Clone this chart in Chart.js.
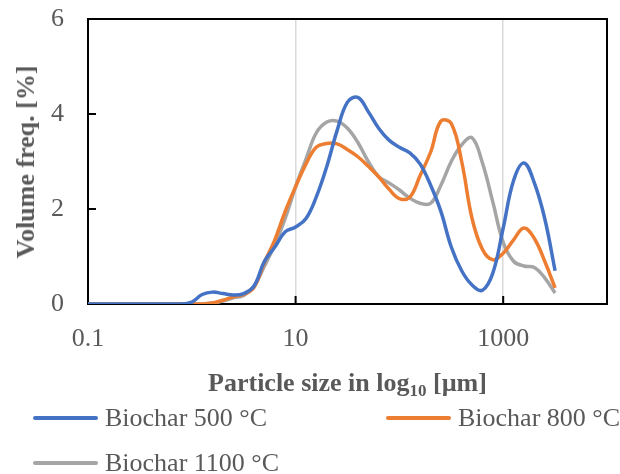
<!DOCTYPE html>
<html>
<head>
<meta charset="utf-8">
<script src="https://cdn.jsdelivr.net/npm/chart.js@4.4.1/dist/chart.umd.min.js"></script>
<style>
  body { margin: 0; background: #fff; }
  #wrap { position: relative; width: 620px; height: 474px; font-family: 'Liberation Serif', 'Times New Roman', serif; color: #595959; }
  #wrap canvas { position: absolute; left: 0; top: 0; }
  .lbl { position: absolute; font-size: 26px; line-height: 30px; white-space: nowrap; }
  .bold { font-weight: bold; }
  .key { position: absolute; height: 4px; border-radius: 2px; }
  sub { font-size: 17px; vertical-align: -5px; line-height: 0; }
</style>
</head>
<body>
<div id="wrap">
  <canvas id="chart" width="620" height="474"></canvas>
  <div class="lbl bold" id="ytitle" style="left:26px; top:162px; transform: translate(-50%,-50%) rotate(-90deg);">Volume freq. [%]</div>
  <div class="lbl bold" style="left:88px; width:519px; top:368px; text-align:center;">Particle size in log<sub>10</sub> [µm]</div>
  <div id="legend"></div>
</div>
<script>
// particle sizes (µm) and volume frequencies (%)
const sizes = [0.1, 0.794, 1, 1.26, 1.58, 2, 2.51, 3.16, 3.98, 5.01, 6.31, 7.94, 10, 12.6, 15.8, 20, 25.1, 31.6, 39.8, 50.1, 63.1, 79.4, 100, 126, 158, 200, 251, 316, 398, 501, 631, 794, 1000, 1259, 1585, 1995, 2512, 3162];
const biochar500 = [0, 0, 0.04, 0.2, 0.25, 0.22, 0.19, 0.22, 0.38, 0.9, 1.2, 1.52, 1.62, 1.8, 2.25, 2.9, 3.65, 4.25, 4.35, 4.05, 3.7, 3.45, 3.3, 3.18, 2.95, 2.5, 1.95, 1.2, 0.7, 0.4, 0.29, 0.65, 1.6, 2.6, 2.97, 2.55, 1.8, 0.7];
const biochar800 = [0, 0, 0, 0, 0.02, 0.08, 0.15, 0.2, 0.35, 0.88, 1.35, 1.95, 2.47, 2.95, 3.3, 3.38, 3.37, 3.25, 3.1, 2.9, 2.68, 2.42, 2.22, 2.25, 2.7, 3.2, 3.85, 3.8, 3.0, 1.8, 1.15, 0.93, 1.07, 1.35, 1.6, 1.38, 0.9, 0.34];
const biochar1100 = [0, 0, 0, 0, 0.02, 0.06, 0.13, 0.18, 0.38, 0.8, 1.25, 1.8, 2.47, 3.05, 3.6, 3.83, 3.85, 3.7, 3.4, 3.0, 2.68, 2.55, 2.4, 2.23, 2.12, 2.12, 2.5, 3.0, 3.35, 3.5, 2.97, 2.15, 1.3, 0.9, 0.8, 0.77, 0.55, 0.23];
const seriesNames = ['Biochar 500 °C', 'Biochar 800 °C', 'Biochar 1100 °C'];
const seriesColors = ['#4472C4', '#ED7D31', '#A5A5A5'];
const xTicks = [0.1, 10, 1000];
const yTicks = [0, 2, 4, 6];

// HTML legend laid out like the Excel one (two columns)
const legendPos = [[33, 418], [386, 418], [33, 463]];
const legend = document.getElementById('legend');
seriesNames.forEach((name, i) => {
    const [lx, ly] = legendPos[i];
    legend.innerHTML += `<div class="key" style="left:${lx}px; top:${ly - 2}px; width:65px; background:${seriesColors[i]}"></div>
        <div class="lbl" style="left:${lx + 72}px; top:${ly - 15}px;">${name}</div>`;
});

// frame + inward tick marks, drawn under the lines
const framePlugin = {
    id: 'frame',
    beforeDatasetsDraw(chart) {
        const { ctx, chartArea: a, scales } = chart;
        ctx.save();
        ctx.strokeStyle = '#000';
        ctx.lineWidth = 2;
        ctx.strokeRect(a.left, a.top, a.right - a.left, a.bottom - a.top);
        ctx.beginPath();
        xTicks.forEach(v => {
            const px = scales.x.getPixelForValue(v);
            ctx.moveTo(px, a.bottom); ctx.lineTo(px, a.bottom - 8);
        });
        yTicks.forEach(v => {
            const py = scales.y.getPixelForValue(v);
            ctx.moveTo(a.left, py); ctx.lineTo(a.left + 8, py);
        });
        ctx.stroke();
        ctx.restore();
    }
};

const tickFont = { family: "'Liberation Serif', 'Times New Roman', serif", size: 26 };

new Chart(document.getElementById('chart'), {
    type: 'line',
    data: {
        datasets: [biochar500, biochar800, biochar1100].map((vals, i) => ({
            label: seriesNames[i],
            data: sizes.map((s, j) => ({ x: s, y: vals[j] })),
            borderColor: seriesColors[i],
            borderWidth: 3.5,
            borderJoinStyle: 'round',
            pointRadius: 0,
            tension: 0.4,
            fill: false
        }))
    },
    options: {
        responsive: false,
        animation: false,
        layout: { padding: { top: 19, right: 13, left: 0, bottom: 0 } },
        plugins: { legend: { display: false }, tooltip: { enabled: false } },
        scales: {
            x: {
                type: 'logarithmic',
                min: 0.1,
                max: 10000,
                afterBuildTicks: s => { s.ticks = xTicks.map(v => ({ value: v })); },
                afterFit: s => { s.height = 170; s.paddingLeft = 0; s.paddingRight = 0; },
                border: { display: false },
                grid: { color: '#d9d9d9', lineWidth: 1.5, drawTicks: false },
                ticks: { color: '#595959', font: tickFont, padding: 20, maxRotation: 0, callback: v => String(v) }
            },
            y: {
                min: 0,
                max: 6,
                afterBuildTicks: s => { s.ticks = yTicks.map(v => ({ value: v })); },
                afterFit: s => { s.width = 88; s.paddingTop = 0; s.paddingBottom = 0; },
                border: { display: false },
                grid: { display: false, drawTicks: false },
                ticks: { color: '#595959', font: tickFont, padding: 24 }
            }
        }
    },
    plugins: [framePlugin]
});
</script>
</body>
</html>
